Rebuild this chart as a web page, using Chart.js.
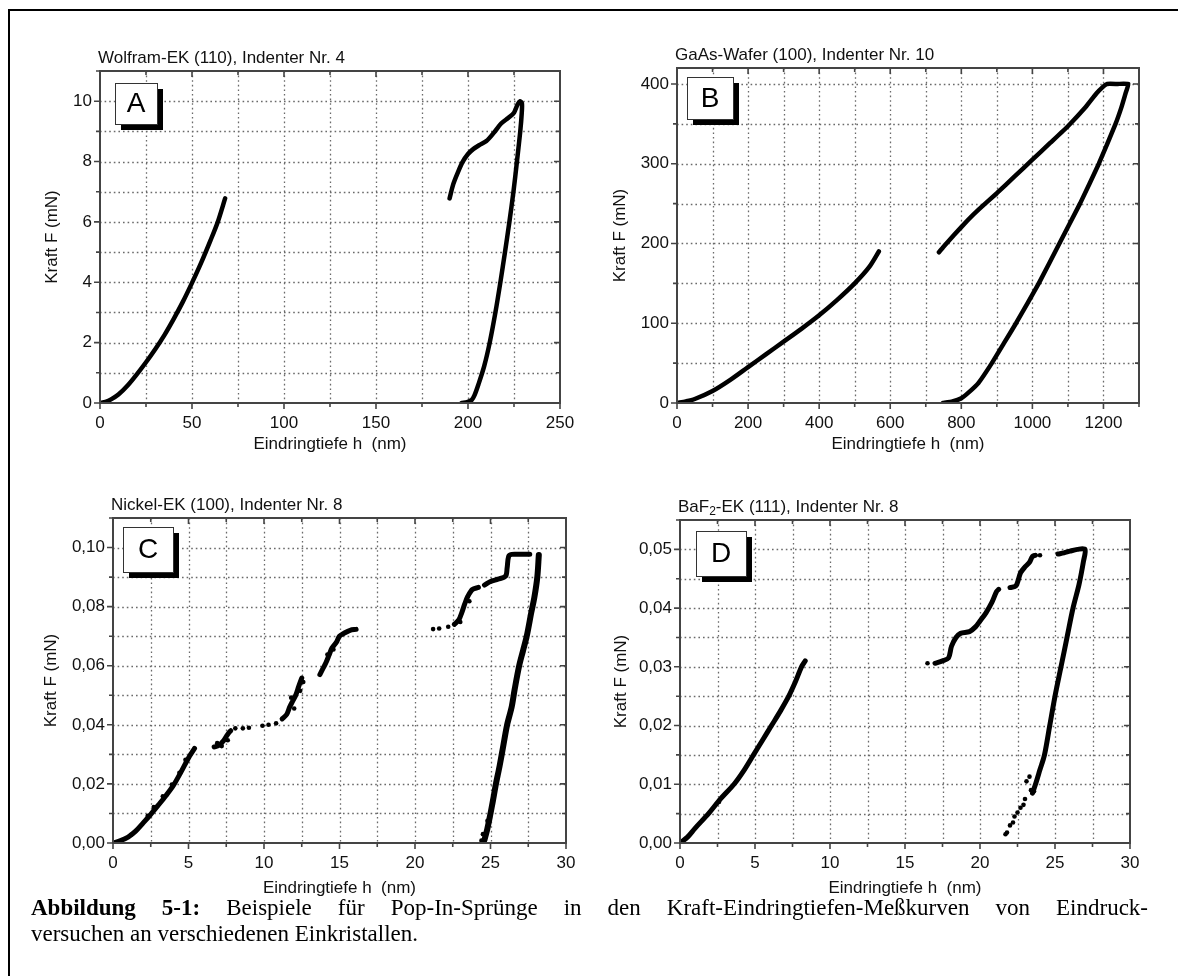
<!DOCTYPE html>
<html>
<head>
<meta charset="utf-8">
<script src="https://cdn.jsdelivr.net/npm/chart.js@4.4.1/dist/chart.umd.min.js"></script>
<style>
  body { margin: 0; background: #fff; width: 1178px; height: 976px; overflow: hidden; position: relative; }
  #frame { position: absolute; left: 8px; top: 9px; width: 1200px; height: 1000px; border-left: 2px solid #000; border-top: 2px solid #000; }
  canvas { position: absolute; }
  .cap { position: absolute; left: 31px; width: 1117px; font-family: "Liberation Serif", "Times New Roman", serif; font-size: 23px; line-height: 26px; color: #000; }
  #cap1 { top: 895px; text-align: justify; text-align-last: justify; }
  #cap2 { top: 921px; }
</style>
</head>
<body>
<div id="frame"></div>
<canvas id="chartA" width="576" height="458" style="left:12px;top:12px"></canvas>
<canvas id="chartB" width="584" height="458" style="left:592px;top:12px"></canvas>
<canvas id="chartC" width="576" height="432" style="left:12px;top:474px"></canvas>
<canvas id="chartD" width="584" height="432" style="left:592px;top:474px"></canvas>
<div class="cap" id="cap1"><b>Abbildung 5-1:</b> Beispiele für Pop-In-Sprünge in den Kraft-Eindringtiefen-Meßkurven von Eindruck-</div>
<div class="cap" id="cap2">versuchen an verschiedenen Einkristallen.</div>
<script>
// values: [h (nm), F (mN)]

// A - Wolfram
const wLoad = [[0,0],[3,0.04],[6,0.12],[10,0.28],[15,0.58],[20,0.95],[25,1.35],[30,1.78],[35,2.25],[40,2.78],[45,3.35],[50,3.98],[55,4.65],[60,5.38],[64,6.0],[68,6.78]];
const wLoadUnload = [[190,6.78],[192,7.25],[194.5,7.64],[197,7.98],[200,8.25],[203,8.42],[206,8.54],[210,8.68],[214,8.95],[218,9.26],[222,9.45],[225,9.62],[227,9.9],[228.3,10.0],[229.3,9.93],[229.2,9.6],[228.4,9.0],[226.6,8.0],[224.7,7.0],[222.5,6.0],[220.1,5.0],[217.6,4.0],[214.9,3.0],[211.8,2.0],[208.8,1.22],[205.7,0.62],[203.5,0.25],[202,0.1],[199.5,0.03],[196.5,0]];

// B - GaAs
const gLoad = [[0,0],[25,2],[50,5],[100,15],[150,29],[200,45],[250,61],[300,77],[350,93],[400,110],[450,129],[500,150],[540,170],[568,190]];
const gLoadUnload = [[737,189],[750,196],[780,211],[820,230],[850,243],[900,263],[950,284],[1000,305],[1050,326],[1100,347],[1150,371],[1180,388],[1200,397],[1210,400],[1240,400],[1270,400],[1262,388],[1250,370],[1234,350],[1187,300],[1134,250],[1076,200],[1018,150],[954,100],[920,75],[886,50],[848,25],[820,13],[800,6],[775,2],[748,0]];

// C - Nickel
const nLoad1 = [[0,0],[0.5,0.0008],[1,0.002],[1.5,0.004],[2,0.0068],[2.5,0.0097],[3,0.0128],[3.5,0.016],[4,0.0195],[4.5,0.024],[5,0.0288],[5.4,0.032]];
const nLoad2 = [[6.7,0.0325],[7.0,0.033],[7.3,0.0345],[7.5,0.036],[7.7,0.0375],[7.8,0.038]];
const nLoad3 = [[11.2,0.042],[11.5,0.0435],[11.7,0.046],[11.9,0.048],[12.1,0.05],[12.3,0.053],[12.5,0.0558]];
const nLoad4 = [[13.7,0.057],[13.9,0.059],[14.1,0.061],[14.3,0.0635],[14.5,0.066],[14.8,0.068],[15.0,0.07],[15.3,0.071],[15.7,0.072],[16.1,0.0723]];
const nLoad5 = [[22.6,0.074],[22.9,0.0755],[23.1,0.078],[23.3,0.081],[23.5,0.0835],[23.8,0.0858],[24.2,0.0865]];
const nLoad6 = [[24.6,0.0873],[25.0,0.0885],[25.5,0.0893],[26.0,0.0903],[26.1,0.093],[26.2,0.097],[26.4,0.0977],[27.0,0.0977],[27.6,0.0977]];
const nUnload = [[28.2,0.0975],[28.1,0.09],[27.9,0.083],[27.7,0.078],[27.4,0.07],[27.15,0.065],[26.9,0.06],[26.6,0.052],[26.4,0.046],[26.1,0.04],[25.85,0.033],[25.6,0.026],[25.36,0.02],[25.15,0.014],[25.0,0.01],[24.8,0.005],[24.6,0.001]];
const nDots = [[8.1,0.0388],[8.6,0.0388],[9.0,0.039],[9.9,0.0397],[10.3,0.04],[10.8,0.0405],[21.2,0.0724],[21.6,0.0726],[22.2,0.0732],
  [1.2,0.0028],[2.3,0.0092],[2.7,0.0122],[3.3,0.0158],[3.9,0.0198],[4.4,0.0238],[4.8,0.0282],[6.9,0.0338],[7.6,0.0348],[7.2,0.0328],
  [12.0,0.0455],[12.4,0.0515],[11.8,0.0492],[12.6,0.0545],[14.2,0.0638],[14.6,0.0655],[23.0,0.0748],[23.6,0.0818],
  [24.4,0.0008],[24.5,0.003],[24.8,0.0075]];

// D - BaF2
const bLoad1 = [[0,0],[0.5,0.001],[1,0.0025],[1.9,0.005],[2.7,0.0075],[3.6,0.01],[4.3,0.0125],[4.9,0.015],[5.5,0.0175],[6.1,0.02],[6.7,0.0225],[7.25,0.025],[7.7,0.0275],[8.1,0.03],[8.35,0.031]];
const bLoad2 = [[17.0,0.0306],[17.5,0.031],[17.9,0.0315],[18.1,0.0335],[18.4,0.035],[18.7,0.0357],[19.3,0.036],[19.7,0.0368],[20.0,0.0378],[20.4,0.0392],[20.8,0.041],[21.1,0.0428],[21.25,0.0432]];
const bLoad3 = [[22.0,0.0435],[22.4,0.0438],[22.7,0.046],[23.0,0.047],[23.3,0.0478],[23.5,0.0488],[23.7,0.049]];
const bUnload = [[25.2,0.0492],[25.6,0.0494],[26.0,0.0497],[26.5,0.05],[27.0,0.05],[26.9,0.048],[26.6,0.044],[26.2,0.04],[25.8,0.035],[25.4,0.03],[25.0,0.025],[24.65,0.02],[24.3,0.015],[24.0,0.0125],[23.7,0.01],[23.5,0.0085]];
const bDots = [[16.5,0.0306],[24.0,0.049],[2.6,0.007],[23.3,0.0113],[23.1,0.0105],[23.4,0.009],[23.6,0.0088],[23.0,0.0075],[22.9,0.0065],[22.7,0.006],[22.5,0.0052],[22.3,0.0045],[22.2,0.0035],[22.0,0.003],[21.8,0.0018],[21.7,0.0015]];

const FONT = '"Liberation Sans", Arial, Helvetica, sans-serif';
const FS = 17;
const LH = FS * 1.2;

function pts(a) { return a.map(p => ({x: p[0], y: p[1]})); }
function isMajor(v, step) { const r = v / step; return Math.abs(r - Math.round(r)) < 1e-6; }

// grid, frame, tick marks, letter box and heading
const frameTicks = {
  id: 'frameTicks',
  beforeDatasetsDraw(chart, args, o) {
    const {ctx, chartArea: a, scales: {x, y}} = chart;
    ctx.save();
    ctx.strokeStyle = '#6a6a6a';
    ctx.lineWidth = 1.3;
    ctx.setLineDash([1.6, 3]);
    ctx.beginPath();
    x.ticks.forEach(t => {
      const p = Math.round(x.getPixelForValue(t.value)) + 0.5;
      if (p > a.left + 2 && p < a.right - 2) { ctx.moveTo(p, a.top); ctx.lineTo(p, a.bottom); }
    });
    y.ticks.forEach(t => {
      const p = Math.round(y.getPixelForValue(t.value)) + 0.5;
      if (p > a.top + 2 && p < a.bottom - 2) { ctx.moveTo(a.left, p); ctx.lineTo(a.right, p); }
    });
    ctx.stroke();
    ctx.restore();
  },
  afterDatasetsDraw(chart, args, o) {
    const {ctx, chartArea: a, scales: {x, y}} = chart;
    ctx.save();
    ctx.strokeStyle = '#444';
    ctx.lineWidth = 1.6;
    ctx.beginPath();
    x.ticks.forEach(t => {
      const p = x.getPixelForValue(t.value);
      const len = isMajor(t.value, o.xMajor) ? 6 : 4;
      ctx.moveTo(p, a.bottom); ctx.lineTo(p, a.bottom + len);
      ctx.moveTo(p, a.top); ctx.lineTo(p, a.top + len);
    });
    y.ticks.forEach(t => {
      const p = y.getPixelForValue(t.value);
      const len = isMajor(t.value, o.yMajor) ? 6 : 4;
      ctx.moveTo(a.left, p); ctx.lineTo(a.left - len, p);
      ctx.moveTo(a.right, p); ctx.lineTo(a.right - len, p);
    });
    ctx.stroke();
    ctx.lineWidth = 2;
    ctx.strokeRect(a.left, a.top, a.right - a.left, a.bottom - a.top);

    // letter box with shadow
    const [dx, dy, w, h] = o.box;
    const bx = a.left + dx, by = a.top + dy;
    ctx.fillStyle = '#000';
    ctx.fillRect(bx + 6, by + 6, w, h);
    ctx.fillStyle = '#fff';
    ctx.fillRect(bx, by, w, h);
    ctx.strokeStyle = '#333';
    ctx.lineWidth = 1;
    ctx.strokeRect(bx + 0.5, by + 0.5, w, h);
    ctx.fillStyle = '#000';
    ctx.font = '28px ' + FONT;
    ctx.textAlign = 'center';
    ctx.textBaseline = 'middle';
    ctx.fillText(o.letter, bx + w / 2, by + h / 2 + 1);

    // heading above the plot
    ctx.textAlign = 'left';
    let tx = a.left - 2;
    const ty = a.top - 13;
    o.title.forEach(part => {
      const sub = part[1] === 'sub';
      ctx.font = (sub ? 12 : FS) + 'px ' + FONT;
      ctx.fillStyle = '#111';
      ctx.fillText(part[0], tx, ty + (sub ? 5 : 0));
      tx += ctx.measureText(part[0]).width;
    });
    ctx.restore();
  }
};

function lineSet(data, width, tension) {
  return {data: pts(data), showLine: true, borderColor: '#000', backgroundColor: '#000',
    borderWidth: width, pointRadius: 0, tension: tension === undefined ? 0.3 : tension,
    borderCapStyle: 'round', borderJoinStyle: 'round'};
}
function dotSet(data) {
  return {data: pts(data), showLine: false, borderColor: '#000', backgroundColor: '#000',
    pointRadius: 2.3, pointBorderWidth: 0};
}

function makeChart(id, c) {
  const cv = document.getElementById(id);
  const left = parseFloat(cv.style.left), top = parseFloat(cv.style.top);
  const yBoxLeft = c.yTitleX - LH / 2;
  const xBoxBottom = c.xTitleY + LH / 2;
  const yW = c.area[0] - yBoxLeft;
  const xH = xBoxBottom - c.area[3];
  const tickFont = {family: FONT, size: FS};
  new Chart(cv, {
    type: 'scatter',
    data: {datasets: c.datasets},
    options: {
      responsive: false,
      animation: false,
      events: [],
      layout: {padding: {
        left: yBoxLeft - left,
        top: c.area[2] - top,
        right: left + cv.width - c.area[1],
        bottom: top + cv.height - xBoxBottom
      }},
      plugins: {legend: {display: false}, tooltip: {enabled: false},
        frameTicks: {xMajor: c.xMajor, yMajor: c.yMajor, letter: c.letter, box: c.box, title: c.title}},
      scales: {
        x: {
          type: 'linear', min: c.xRange[0], max: c.xRange[1],
          grid: {display: false, drawTicks: false}, border: {display: false},
          ticks: {stepSize: c.xStep, includeBounds: false, autoSkip: false, maxRotation: 0, padding: 10, color: '#111', font: tickFont,
            callback: v => isMajor(v, c.xMajor) ? String(Math.round(v)) : ''},
          title: {display: true, text: 'Eindringtiefe h  (nm)', color: '#111', font: tickFont, padding: 0},
          afterFit: s => { s.height = xH; }
        },
        y: {
          type: 'linear', min: c.yRange[0], max: c.yRange[1],
          grid: {display: false, drawTicks: false}, border: {display: false},
          ticks: {stepSize: c.yStep, includeBounds: false, autoSkip: false, padding: 8, color: '#111', font: tickFont,
            callback: v => isMajor(v, c.yMajor) ? c.yFmt(v) : ''},
          title: {display: true, text: 'Kraft F (mN)', color: '#111', font: tickFont, padding: 0},
          afterFit: s => { s.width = yW; }
        }
      }
    },
    plugins: [frameTicks]
  });
}

const intLabel = v => String(Math.round(v));
const commaLabel = v => v.toFixed(2).replace('.', ',');

makeChart('chartA', {
  area: [100, 560, 71, 403], yTitleX: 52, xTitleY: 444,
  xRange: [0, 250], xStep: 25, xMajor: 50, yRange: [0, 11], yStep: 1, yMajor: 2, yFmt: intLabel,
  letter: 'A', box: [15, 12, 42, 41], title: [['Wolfram-EK (110), Indenter Nr. 4']],
  datasets: [lineSet(wLoad, 4.5), lineSet(wLoadUnload, 4.5)]
});
makeChart('chartB', {
  area: [677, 1139, 68, 403], yTitleX: 620, xTitleY: 444,
  xRange: [0, 1300], xStep: 100, xMajor: 200, yRange: [0, 420], yStep: 50, yMajor: 100, yFmt: intLabel,
  letter: 'B', box: [10, 9, 46, 42], title: [['GaAs-Wafer (100), Indenter Nr. 10']],
  datasets: [lineSet(gLoad, 4.5), lineSet(gLoadUnload, 4.5, 0.12)]
});
makeChart('chartC', {
  area: [113, 566, 518, 843], yTitleX: 51, xTitleY: 888,
  xRange: [0, 30], xStep: 2.5, xMajor: 5, yRange: [0, 0.11], yStep: 0.01, yMajor: 0.02, yFmt: commaLabel,
  letter: 'C', box: [10, 9, 50, 45], title: [['Nickel-EK (100), Indenter Nr. 8']],
  datasets: [lineSet(nLoad1, 5), lineSet(nLoad2, 5), lineSet(nLoad3, 5), lineSet(nLoad4, 5),
    lineSet(nLoad5, 5), lineSet(nLoad6, 5), lineSet(nUnload, 6), dotSet(nDots)]
});
makeChart('chartD', {
  area: [680, 1130, 520, 843], yTitleX: 621, xTitleY: 888,
  xRange: [0, 30], xStep: 2.5, xMajor: 5, yRange: [0, 0.055], yStep: 0.005, yMajor: 0.01, yFmt: commaLabel,
  letter: 'D', box: [16, 11, 50, 45], title: [['BaF'], ['2', 'sub'], ['-EK (111), Indenter Nr. 8']],
  datasets: [lineSet(bLoad1, 5), lineSet(bLoad2, 5), lineSet(bLoad3, 5), lineSet(bUnload, 5), dotSet(bDots)]
});
</script>
</body>
</html>
